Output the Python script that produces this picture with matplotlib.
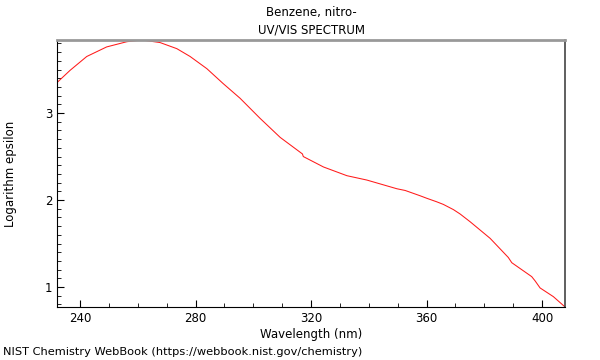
import numpy as np
import matplotlib.pyplot as plt
from matplotlib.ticker import MultipleLocator

# wavelength (nm) and log epsilon
wavelength = [232.0, 236.5, 242.3, 249.2, 256.2, 261.4, 267.7, 273.5, 278.1,
              283.9, 289.5, 295.4, 302.3, 309.3, 317.0, 317.3, 324.3, 332.4,
              339.3, 349.7, 352.6, 357.7, 360.1, 363.5, 365.8, 369.3, 371.6,
              375.1, 382.0, 388.3, 389.5, 396.4, 397.6, 399.3, 403.9, 408.0]
log_eps = [3.35, 3.49, 3.65, 3.76, 3.82, 3.84, 3.81, 3.74, 3.65,
           3.51, 3.34, 3.17, 2.94, 2.72, 2.53, 2.50, 2.38, 2.28,
           2.23, 2.13, 2.11, 2.05, 2.02, 1.98, 1.95, 1.89, 1.84,
           1.75, 1.56, 1.34, 1.28, 1.12, 1.07, 0.99, 0.89, 0.77]

fig = plt.figure(figsize=(6, 3.6), dpi=100)
ax = fig.add_axes([0.095, 0.147, 0.847, 0.742])

ax.plot(wavelength, log_eps, color='#ff1a1a', lw=0.75)

ax.set_xlim(232, 408)
ax.set_ylim(0.77, 3.84)
ax.xaxis.set_major_locator(MultipleLocator(40))
ax.xaxis.set_minor_locator(MultipleLocator(10))
ax.yaxis.set_major_locator(MultipleLocator(1))
ax.yaxis.set_minor_locator(MultipleLocator(0.1))
ax.tick_params(which='both', direction='in', labelsize=8.5, top=False, right=False)
ax.tick_params(which='major', length=5)
ax.tick_params(which='minor', length=3)

ax.spines['top'].set_color('#999999')
ax.spines['top'].set_linewidth(2)
ax.spines['right'].set_color('#444444')
ax.spines['right'].set_linewidth(1.2)

ax.set_xlabel('Wavelength (nm)', fontsize=8.5, labelpad=2)
ax.set_ylabel('Logarithm epsilon', fontsize=8.5)
ax.yaxis.set_label_coords(-0.078, 0.5)

cx = 0.095 + 0.847 / 2
fig.text(cx, 0.966, 'Benzene, nitro-', ha='center', va='center', fontsize=8.5)
fig.text(cx, 0.916, 'UV/VIS SPECTRUM', ha='center', va='center', fontsize=8.5)
fig.text(0.005, 0.022, 'NIST Chemistry WebBook (https://webbook.nist.gov/chemistry)',
         ha='left', va='center', fontsize=8.2)

fig.savefig('out.png', dpi=100)
